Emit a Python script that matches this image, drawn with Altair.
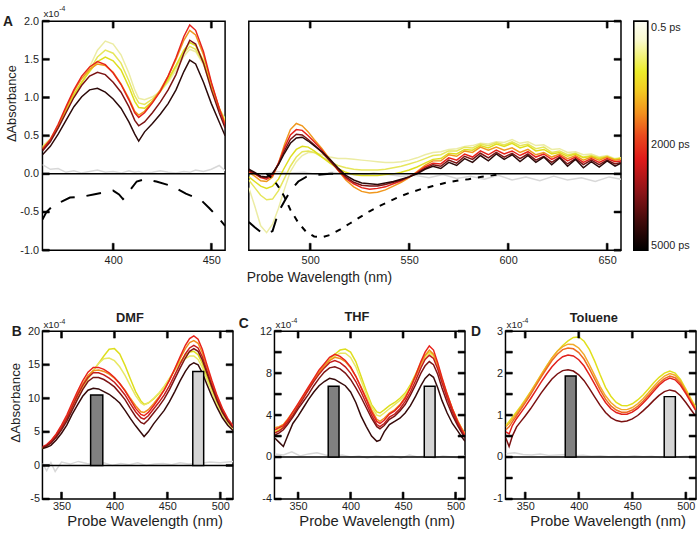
import altair as alt
import pandas as pd

FONT = "Liberation Sans"
INK = "#1e1e1e"

# ======================= DATA (ΔAbsorbance in units of 1e-4) =======================
# ---- Panel A, left part ----
A_L_WL = [364, 368, 372, 376, 380, 384, 388, 392, 396, 400, 404, 408, 411, 413, 416, 420,
          424, 428, 432, 436, 439, 442, 446, 450, 454, 457]
A_L_C1 = [0.36, 0.46, 0.63, 0.82, 1.02, 1.20, 1.40, 1.62, 1.74, 1.70, 1.56, 1.32, 1.10, 0.99, 0.97, 1.01,
          1.08, 1.20, 1.36, 1.54, 1.63, 1.60, 1.43, 1.13, 0.86, 0.72]
A_L_C2 = [0.35, 0.45, 0.62, 0.82, 1.02, 1.19, 1.36, 1.53, 1.62, 1.58, 1.45, 1.22, 1.02, 0.93, 0.91, 0.98,
          1.08, 1.22, 1.40, 1.58, 1.67, 1.63, 1.45, 1.14, 0.86, 0.70]
A_L_C3 = [0.34, 0.44, 0.62, 0.83, 1.04, 1.20, 1.34, 1.47, 1.53, 1.48, 1.36, 1.14, 0.95, 0.87, 0.86, 0.95,
          1.08, 1.24, 1.42, 1.62, 1.72, 1.68, 1.48, 1.15, 0.86, 0.68]
A_L_C4 = [0.33, 0.44, 0.63, 0.86, 1.08, 1.25, 1.37, 1.44, 1.42, 1.33, 1.18, 0.99, 0.82, 0.77, 0.82, 0.95,
          1.10, 1.28, 1.50, 1.75, 1.88, 1.82, 1.56, 1.18, 0.86, 0.66]
A_L_C5 = [0.32, 0.45, 0.65, 0.88, 1.10, 1.28, 1.40, 1.47, 1.43, 1.32, 1.17, 0.97, 0.80, 0.74, 0.80, 0.93,
          1.08, 1.28, 1.52, 1.80, 1.95, 1.88, 1.60, 1.20, 0.86, 0.64]
A_L_C6 = [0.30, 0.42, 0.60, 0.80, 1.00, 1.16, 1.28, 1.33, 1.30, 1.20, 1.07, 0.88, 0.70, 0.63, 0.68, 0.80,
          0.94, 1.10, 1.30, 1.58, 1.75, 1.70, 1.45, 1.10, 0.80, 0.60]
A_L_C7 = [0.25, 0.36, 0.52, 0.70, 0.88, 1.01, 1.10, 1.12, 1.07, 0.98, 0.86, 0.68, 0.52, 0.43, 0.55, 0.66,
          0.78, 0.92, 1.10, 1.34, 1.49, 1.44, 1.20, 0.92, 0.68, 0.50]
A_L_GREY = [0.12, 0.06, 0.07, 0.02, 0.04, 0.01, 0.03, 0.05, 0.02, 0.03, 0.01, 0.04, 0.02, 0.03, 0.01, 0.02,
            0.04, 0.02, 0.01, 0.03, 0.02, 0.05, 0.03, 0.06, 0.11, 0.04]
ABS_L_WL = [364, 366, 370, 374, 378, 384, 390, 396, 400, 403, 405, 407, 409, 412, 416, 422, 430, 437,
            441, 445, 449, 453, 457]
ABS_L = [-0.60, -0.50, -0.40, -0.36, -0.31, -0.30, -0.27, -0.24, -0.22, -0.27, -0.33, -0.28, -0.20,
         -0.10, -0.07, -0.10, -0.16, -0.26, -0.30, -0.35, -0.45, -0.56, -0.68]

# ---- Panel A, right part ----
A_R_WL = [469, 472, 475, 478, 481, 484, 487, 490, 493, 496, 499, 502, 506, 510, 514, 518, 522, 526,
          530, 534, 538, 542, 546, 550, 554, 558, 562, 566, 570, 574, 578, 582, 586, 590, 594, 598,
          602, 606, 610, 614, 618, 622, 626, 630, 634, 638, 642, 646, 650, 654, 657]
A_R_C1 = [-0.18, -0.42, -0.68, -0.77, -0.66, -0.45, -0.20, 0.03, 0.16, 0.24, 0.28, 0.28, 0.25, 0.22,
          0.20, 0.20, 0.19, 0.18, 0.17, 0.16, 0.15, 0.15, 0.16, 0.18, 0.21, 0.25, 0.28, 0.29, 0.32,
          0.33, 0.36, 0.37, 0.40, 0.39, 0.42, 0.41, 0.45, 0.40, 0.42, 0.37, 0.38, 0.32, 0.33, 0.28,
          0.29, 0.25, 0.26, 0.22, 0.24, 0.20, 0.21]
A_R_C2 = [-0.08, -0.18, -0.28, -0.34, -0.33, -0.22, -0.06, 0.10, 0.22, 0.29, 0.30, 0.28, 0.22, 0.16,
          0.11, 0.08, 0.06, 0.05, 0.05, 0.05, 0.06, 0.08, 0.10, 0.13, 0.16, 0.20, 0.24, 0.25, 0.30,
          0.30, 0.35, 0.34, 0.39, 0.37, 0.41, 0.38, 0.42, 0.37, 0.39, 0.33, 0.35, 0.28, 0.30, 0.25,
          0.27, 0.22, 0.24, 0.21, 0.23, 0.19, 0.21]
A_R_C3 = [-0.04, -0.10, -0.16, -0.19, -0.16, -0.07, 0.08, 0.22, 0.32, 0.36, 0.35, 0.30, 0.22, 0.14,
          0.07, 0.02, -0.01, -0.02, -0.02, -0.02, -0.01, 0.00, 0.02, 0.05, 0.09, 0.14, 0.19, 0.20,
          0.27, 0.26, 0.32, 0.31, 0.37, 0.34, 0.39, 0.36, 0.40, 0.34, 0.37, 0.30, 0.32, 0.26, 0.28,
          0.23, 0.26, 0.21, 0.23, 0.20, 0.22, 0.19, 0.20]
A_R_C4 = [0.02, -0.03, -0.09, -0.10, -0.04, 0.14, 0.38, 0.58, 0.66, 0.63, 0.55, 0.45, 0.33, 0.19,
          0.05, -0.08, -0.17, -0.23, -0.25, -0.24, -0.21, -0.16, -0.11, -0.05, 0.03, 0.11, 0.17,
          0.17, 0.25, 0.23, 0.30, 0.28, 0.35, 0.31, 0.35, 0.31, 0.34, 0.28, 0.32, 0.25, 0.28, 0.22,
          0.26, 0.20, 0.24, 0.18, 0.22, 0.18, 0.22, 0.18, 0.19]
A_R_C5 = [0.03, 0.00, -0.05, -0.07, -0.02, 0.14, 0.34, 0.51, 0.58, 0.57, 0.50, 0.42, 0.31, 0.18,
          0.05, -0.06, -0.13, -0.18, -0.20, -0.19, -0.17, -0.13, -0.09, -0.04, 0.02, 0.09, 0.14,
          0.13, 0.21, 0.18, 0.26, 0.22, 0.30, 0.25, 0.31, 0.26, 0.30, 0.24, 0.29, 0.22, 0.26, 0.19,
          0.24, 0.17, 0.22, 0.15, 0.20, 0.15, 0.20, 0.16, 0.17]
A_R_C6 = [0.04, 0.01, -0.04, -0.05, 0.00, 0.13, 0.30, 0.45, 0.52, 0.51, 0.45, 0.38, 0.28, 0.17,
          0.06, -0.04, -0.11, -0.15, -0.16, -0.16, -0.14, -0.11, -0.08, -0.04, 0.01, 0.07, 0.12,
          0.10, 0.18, 0.14, 0.23, 0.19, 0.27, 0.21, 0.28, 0.22, 0.27, 0.20, 0.26, 0.18, 0.23, 0.15,
          0.22, 0.13, 0.20, 0.12, 0.18, 0.12, 0.18, 0.13, 0.15]
A_R_C7 = [0.06, 0.02, -0.03, -0.04, 0.01, 0.12, 0.27, 0.40, 0.47, 0.48, 0.43, 0.37, 0.29, 0.19,
          0.08, -0.02, -0.08, -0.12, -0.13, -0.14, -0.12, -0.10, -0.07, -0.04, 0.00, 0.06, 0.10,
          0.07, 0.15, 0.11, 0.20, 0.15, 0.24, 0.17, 0.26, 0.19, 0.25, 0.16, 0.24, 0.15, 0.22, 0.12,
          0.21, 0.10, 0.19, 0.08, 0.16, 0.09, 0.17, 0.10, 0.14]
A_R_GREY_WL = [469, 476, 483, 490, 497, 504, 511, 518, 525, 532, 539, 546, 553, 560, 567, 574, 581,
               588, 595, 602, 609, 616, 623, 630, 637, 644, 651, 657]
A_R_GREY = [0.02, 0.00, 0.03, 0.01, 0.02, -0.01, 0.02, 0.00, -0.02, 0.01, -0.01, -0.03, -0.02,
            -0.05, -0.01, -0.06, -0.03, -0.07, -0.02, -0.08, -0.04, -0.09, -0.03, -0.08, -0.05,
            -0.10, -0.04, -0.07]
ABS_R_WL = [469, 472, 475, 478, 481, 484, 487, 490, 494, 498, 503, 510, 516]
ABS_R = [-0.63, -0.70, -0.76, -0.79, -0.75, -0.50, -0.36, -0.22, -0.10, -0.04, -0.015, 0.0, 0.0]
EM_WL = [478, 481, 484, 487, 490, 494, 498, 502, 506, 510, 515, 520, 525, 530, 535, 540, 545, 550,
         556, 562, 568, 574, 580, 586, 592, 597]
EM = [0.0, -0.06, -0.17, -0.30, -0.47, -0.64, -0.76, -0.82, -0.83, -0.80, -0.73, -0.65, -0.57,
      -0.49, -0.42, -0.36, -0.30, -0.25, -0.20, -0.16, -0.12, -0.09, -0.07, -0.04, -0.02, 0.0]

# ---- Panel B (DMF) ----
B_WL = [332, 336, 340, 345, 350, 355, 360, 365, 370, 375, 380, 385, 390, 395, 400, 405, 410, 415,
        420, 425, 428, 432, 437, 442, 447, 452, 457, 462, 467, 471, 475, 479, 483, 487, 492, 497,
        502, 507, 512]
B_Y1 = [2.5, 2.8, 3.4, 4.3, 5.5, 6.9, 8.5, 10.1, 11.6, 12.9, 14.1, 15.2, 16.3, 17.3, 17.4, 16.6,
        14.9, 12.9, 11.0, 9.6, 9.1, 9.3, 9.9, 10.7, 11.7, 12.9, 14.2, 15.4, 16.4, 16.9, 17.0, 16.5,
        15.2, 13.4, 11.3, 9.3, 7.7, 6.4, 5.5]
B_Y2 = [2.6, 2.9, 3.5, 4.4, 5.6, 7.0, 8.6, 10.2, 11.7, 13.0, 14.2, 15.2, 15.9, 16.0, 15.6, 14.7,
        13.4, 11.9, 10.4, 9.3, 9.0, 9.3, 10.0, 10.8, 11.8, 13.0, 14.2, 15.2, 15.9, 16.3, 16.3, 15.8,
        14.6, 12.9, 10.9, 9.0, 7.5, 6.3, 5.4]
B_OR = [2.7, 3.0, 3.6, 4.6, 5.8, 7.2, 8.9, 10.6, 12.1, 13.4, 14.1, 14.2, 14.0, 13.6, 13.0, 12.2,
        11.2, 10.0, 8.9, 8.0, 7.9, 8.3, 9.2, 10.2, 11.3, 12.7, 14.3, 15.9, 17.4, 18.3, 18.6, 18.2,
        16.8, 14.8, 12.4, 10.2, 8.3, 6.9, 5.8]
B_RED = [2.8, 3.1, 3.7, 4.7, 6.0, 7.5, 9.3, 11.0, 12.6, 13.9, 14.6, 14.6, 14.3, 13.8, 13.1, 12.2,
         11.1, 9.8, 8.5, 7.6, 7.4, 7.9, 8.9, 10.0, 11.2, 12.7, 14.4, 16.2, 17.9, 18.9, 19.3, 18.8,
         17.3, 15.2, 12.7, 10.4, 8.5, 7.0, 5.9]
B_R2 = [2.7, 3.0, 3.5, 4.4, 5.6, 7.0, 8.7, 10.4, 11.9, 13.1, 13.8, 13.8, 13.5, 13.0, 12.4, 11.5,
        10.5, 9.2, 8.0, 7.1, 6.9, 7.4, 8.4, 9.4, 10.5, 11.9, 13.5, 15.1, 16.6, 17.5, 17.9, 17.5,
        16.2, 14.3, 12.0, 9.9, 8.1, 6.7, 5.7]
B_DR = [2.6, 2.9, 3.3, 4.2, 5.3, 6.6, 8.2, 9.8, 11.3, 12.5, 13.1, 13.1, 12.8, 12.3, 11.7, 10.8,
        9.8, 8.5, 7.3, 6.4, 6.2, 6.8, 7.8, 8.8, 9.9, 11.3, 12.9, 14.5, 16.0, 17.0, 17.4, 17.0,
        15.7, 13.9, 11.7, 9.6, 7.9, 6.6, 5.6]
B_BLK = [2.5, 2.7, 3.0, 3.8, 4.8, 6.0, 7.6, 9.0, 10.3, 11.2, 11.5, 11.4, 11.0, 10.6, 10.0, 9.3,
         8.2, 7.0, 5.9, 4.9, 4.3, 5.0, 6.2, 7.2, 8.2, 9.5, 11.0, 12.6, 14.0, 14.9, 15.3, 15.0,
         13.8, 12.2, 10.3, 8.6, 7.1, 6.0, 5.2]
B_GREY_WL = [332, 336, 340, 344, 350, 358, 366, 374, 382, 390, 398, 406, 414, 422, 430, 438, 446,
             454, 462, 470, 480, 490, 500, 512]
B_GREY = [0.3, -0.8, 0.4, -0.9, 0.5, 0.2, 0.6, 0.3, 0.1, 0.4, 0.0, 0.3, 0.1, 0.4, 0.0, 0.2, 0.3,
          0.1, 0.4, 0.2, 0.3, 0.5, 0.4, 0.6]
B_BAR_LO = [377.5, 474.0]
B_BAR_HI = [389.0, 484.3]
B_BAR_H = [10.5, 14.0]

# ---- Panel C (THF) ----
C_WL = [328, 332, 336, 340, 345, 350, 355, 360, 365, 370, 375, 380, 385, 390, 395, 400, 405, 410,
        415, 420, 425, 428, 432, 437, 442, 447, 452, 457, 462, 467, 471, 475, 479, 483, 487, 492,
        497, 502, 506, 509]
C_Y1 = [2.4, 2.6, 2.9, 3.4, 4.1, 4.9, 5.7, 6.5, 7.3, 8.0, 8.7, 9.3, 9.8, 10.2, 10.3, 10.0, 9.1,
        7.7, 6.3, 5.0, 4.3, 4.2, 4.5, 4.9, 5.2, 5.6, 6.1, 6.9, 7.9, 9.0, 9.7, 10.0, 9.7, 8.8, 7.5,
        6.0, 4.6, 3.5, 2.7, 2.2]
C_Y2 = [2.5, 2.7, 3.0, 3.5, 4.2, 5.0, 5.8, 6.6, 7.3, 8.0, 8.6, 9.2, 9.6, 9.9, 9.9, 9.5, 8.6, 7.3,
        6.0, 4.8, 4.0, 3.9, 4.2, 4.6, 5.0, 5.4, 5.9, 6.7, 7.7, 8.8, 9.5, 9.9, 9.6, 8.7, 7.4, 5.9,
        4.5, 3.4, 2.6, 2.1]
C_OR = [2.8, 2.9, 3.1, 3.6, 4.3, 5.0, 5.8, 6.6, 7.4, 8.1, 8.7, 9.2, 9.5, 9.4, 9.1, 8.5, 7.7, 6.7,
        5.6, 4.5, 3.6, 3.4, 3.7, 4.2, 4.5, 5.0, 5.7, 6.6, 7.7, 8.9, 9.7, 10.2, 9.8, 8.8, 7.4, 5.9,
        4.5, 3.4, 2.7, 2.2]
C_RED = [2.6, 2.8, 3.0, 3.5, 4.3, 5.1, 5.9, 6.7, 7.5, 8.3, 8.9, 9.5, 9.8, 9.6, 9.2, 8.6, 7.7, 6.6,
         5.5, 4.3, 3.4, 3.2, 3.5, 4.1, 4.4, 4.9, 5.6, 6.6, 7.8, 9.1, 10.0, 10.6, 10.2, 9.0, 7.6,
         6.0, 4.6, 3.4, 2.6, 2.1]
C_R2 = [2.3, 2.5, 2.8, 3.3, 4.0, 4.8, 5.6, 6.4, 7.2, 7.9, 8.5, 9.0, 9.2, 9.0, 8.6, 8.0, 7.2, 6.2,
        5.1, 4.0, 3.1, 2.9, 3.2, 3.8, 4.1, 4.6, 5.3, 6.2, 7.3, 8.5, 9.3, 9.7, 9.4, 8.4, 7.1, 5.6,
        4.3, 3.2, 2.4, 1.9]
C_DR = [2.1, 2.3, 2.6, 3.1, 3.8, 4.6, 5.3, 6.0, 6.8, 7.5, 8.1, 8.5, 8.6, 8.4, 8.0, 7.4, 6.6, 5.7,
        4.7, 3.7, 2.9, 2.7, 3.0, 3.6, 3.9, 4.4, 5.0, 5.9, 6.9, 8.0, 8.7, 9.1, 8.8, 7.9, 6.6, 5.2,
        4.0, 3.0, 2.3, 1.8]
C_BLK = [1.8, 1.4, 1.0, 2.0, 3.2, 3.9, 4.7, 5.5, 6.2, 6.8, 7.2, 7.5, 7.4, 7.1, 6.8, 6.2, 5.2, 3.9,
         2.9, 2.0, 1.5, 1.6, 2.4, 3.1, 3.4, 3.7, 4.2, 4.9, 5.8, 6.8, 7.5, 7.9, 7.6, 6.6, 5.4, 4.2,
         3.2, 2.5, 1.9, 1.5]
C_GREY_WL = [328, 336, 344, 352, 360, 368, 376, 384, 392, 400, 408, 416, 424, 432, 440, 448, 456,
             464, 472, 480, 488, 496, 504, 509]
C_GREY = [0.3, 0.2, 0.5, 0.1, 0.3, 0.4, 0.2, 0.1, 0.2, 0.0, 0.1, -0.1, 0.1, 0.0, 0.1, -0.1, 0.2,
          0.0, 0.1, -0.1, 0.1, 0.0, -0.1, 0.1]
C_BAR_LO = [378.7, 470.2]
C_BAR_HI = [389.0, 480.5]
C_BAR_H = [6.75, 6.75]

# ---- Panel D (Toluene) ----
D_WL = [332, 335, 338, 342, 346, 350, 355, 360, 365, 370, 375, 380, 385, 390, 395, 400, 405, 410,
        415, 420, 425, 430, 435, 440, 445, 450, 455, 460, 465, 470, 475, 480, 485, 490, 495, 500,
        505, 509]
D_Y1 = [0.75, 0.85, 0.95, 1.08, 1.22, 1.37, 1.56, 1.76, 1.97, 2.17, 2.36, 2.52, 2.66, 2.77, 2.85,
        2.86, 2.76, 2.56, 2.28, 1.96, 1.66, 1.45, 1.30, 1.23, 1.22, 1.27, 1.36, 1.48, 1.62, 1.77,
        1.90, 2.00, 2.05, 2.00, 1.85, 1.62, 1.38, 1.20]
D_O1 = [0.72, 0.80, 0.90, 1.04, 1.19, 1.34, 1.54, 1.75, 1.96, 2.16, 2.36, 2.52, 2.63, 2.69, 2.68,
        2.60, 2.44, 2.20, 1.94, 1.68, 1.46, 1.30, 1.19, 1.13, 1.13, 1.18, 1.27, 1.39, 1.53, 1.68,
        1.82, 1.93, 1.99, 1.95, 1.81, 1.59, 1.35, 1.17]
D_O2 = [0.65, 0.72, 0.84, 0.99, 1.14, 1.29, 1.49, 1.70, 1.91, 2.11, 2.30, 2.45, 2.56, 2.60, 2.58,
        2.49, 2.33, 2.10, 1.85, 1.60, 1.38, 1.22, 1.12, 1.07, 1.07, 1.12, 1.21, 1.33, 1.47, 1.62,
        1.76, 1.87, 1.93, 1.89, 1.76, 1.55, 1.32, 1.14]
D_RED = [0.60, 0.55, 0.75, 0.92, 1.06, 1.20, 1.39, 1.59, 1.79, 1.98, 2.15, 2.29, 2.39, 2.43, 2.41,
         2.32, 2.17, 1.96, 1.73, 1.50, 1.30, 1.15, 1.06, 1.02, 1.02, 1.07, 1.16, 1.28, 1.42, 1.57,
         1.71, 1.82, 1.88, 1.84, 1.71, 1.51, 1.29, 1.12]
D_DR = [0.45, 0.25, 0.50, 0.72, 0.85, 0.98, 1.15, 1.34, 1.53, 1.70, 1.86, 1.98, 2.06, 2.08, 2.05,
        1.96, 1.82, 1.63, 1.43, 1.23, 1.06, 0.94, 0.87, 0.84, 0.86, 0.91, 0.99, 1.10, 1.22, 1.35,
        1.47, 1.56, 1.60, 1.57, 1.46, 1.30, 1.12, 0.98]
D_GREY_WL = [332, 340, 348, 356, 364, 372, 380, 388, 396, 404, 412, 420, 428, 436, 444, 452, 460,
             468, 476, 484, 492, 500, 509]
D_GREY = [0.08, 0.10, 0.06, 0.05, 0.07, 0.04, 0.05, 0.06, 0.03, 0.04, 0.02, 0.03, 0.01, 0.02, 0.00,
          0.03, 0.01, 0.02, -0.01, 0.01, 0.00, 0.02, 0.00]
D_BAR_LO = [387.4, 479.8]
D_BAR_HI = [397.5, 490.2]
D_BAR_H = [1.93, 1.44]

# ---- colour bar ----
CB_TICKS = [0, 0.54, 1]
CB_LABELS = ["0.5 ps", "2000 ps", "5000 ps"]

# ======================= STYLE =======================
A_COLORS = ["#ececa4", "#e6e65c", "#dede1e", "#f0981e", "#e6231c", "#7c1414", "#2c0a0a"]
BC_COLORS = ["#dede1e", "#e8e864", "#f0901e", "#e8231c", "#c41c1c", "#7c1414", "#360a0a"]
D_COLORS = ["#e0e01e", "#f2aa2a", "#ee6a22", "#e0201c", "#7a1010"]
GREY = "#d8d8d8"
XTITLE = "Probe Wavelength (nm)"
TICK_LEN_PX = 7
TICK_W_PX = 2.0


def scl(dom):
    return alt.Scale(domain=dom, nice=False, zero=False)


def long_df(W, series, colors):
    rows = []
    for i, (vals, col) in enumerate(zip(series, colors, strict=True)):
        for w, v in zip(W, vals, strict=True):
            rows.append({"wl": w, "v": v, "s": f"s{i}", "col": col})
    return pd.DataFrame(rows)


def xy_df(W, V):
    return pd.DataFrame({"wl": list(W), "v": list(V)})


def neg_fmt(fmt):
    return f"datum.value < 0 ? '-' + format(-datum.value, '{fmt}') : format(datum.value, '{fmt}')"


def panel(p):
    xdom, ydom = p["xdom"], p["ydom"]
    XS, YS = scl(xdom), scl(ydom)

    def X(axis=None, f="wl:Q"):
        return alt.X(f, scale=XS, axis=axis)

    def Y(axis=None, f="v:Q"):
        return alt.Y(f, scale=YS, axis=axis)

    xa = dict(orient="bottom", values=p["xlabels"], ticks=False, domain=False, grid=False,
              labelPadding=p["xpad"], labelFlush=False, format="d")
    if p.get("xtitle"):
        xa.update(title=p["xtitle"], titleX=p["xtx"], titleY=p["xty"], titleAlign="center",
                  titleBaseline="alphabetic", titleFontSize=p["xtfs"], titleAngle=0)
    else:
        xa.update(title=None)
    x_axis = alt.Axis(**xa)
    if p.get("ylabels") is not None:
        ya = dict(orient="left", values=p["ylabels"], ticks=False, domain=False, grid=False,
                  labelPadding=p["ypad"], labelFlush=False, labelExpr=neg_fmt(p["yfmt"]))
        if p.get("ytitle"):
            ya.update(title=p["ytitle"], titleX=p["ytx"], titleY=p["yty"], titleAngle=270,
                      titleAlign="center", titleBaseline="middle", titleFontSize=p["ytfs"])
        else:
            ya.update(title=None)
        y_axis = alt.Axis(**ya)
    else:
        y_axis = None

    layers = []
    gW, gV = p["grey"]
    layers.append(alt.Chart(xy_df(gW, gV)).mark_line(color=GREY, strokeWidth=1.5, clip=True)
                  .encode(x=X(x_axis), y=Y(y_axis)))
    layers.append(alt.Chart(long_df(p["wl"], p["series"], p["colors"]))
                  .mark_line(strokeWidth=1.5, clip=True)
                  .encode(x=X(), y=Y(), detail="s:N",
                          color=alt.Color("col:N", scale=None, legend=None)))
    layers.append(alt.Chart(pd.DataFrame({"v": [0.0]})).mark_rule(color="black", strokeWidth=1.5)
                  .encode(y=Y()))
    for (W, V, dash, sw) in p.get("dashed", []):
        layers.append(alt.Chart(xy_df(W, V)).mark_line(color="black", strokeWidth=sw,
                                                       strokeDash=dash, clip=True)
                      .encode(x=X(), y=Y()))
    for (lo, hi, h, fill) in p.get("bars", []):
        df = pd.DataFrame({"lo": [lo], "hi": [hi], "z": [0.0], "h": [h]})
        layers.append(alt.Chart(df).mark_rect(fill=fill, stroke="black", strokeWidth=1.5)
                      .encode(x=X(f="lo:Q"), x2="hi", y=Y(f="z:Q"), y2="h"))
    # inward tick marks: small filled rectangles (sizes converted from px to data units)
    ux = (xdom[1] - xdom[0]) / p["w"]
    uy = (ydom[1] - ydom[0]) / p["h"]
    L_x, L_y = TICK_LEN_PX * ux, TICK_LEN_PX * uy
    H_x, H_y = TICK_W_PX * ux / 2, TICK_W_PX * uy / 2
    sides = p["sides"]
    for t in p["xticks"]:
        for side in ("bottom", "top"):
            if side not in sides:
                continue
            y0, y1 = ((ydom[0], ydom[0] + L_y) if side == "bottom"
                      else (ydom[1] - L_y, ydom[1]))
            df = pd.DataFrame({"ta": [t - H_x], "tb": [t + H_x], "tc": [y0], "td": [y1]})
            layers.append(alt.Chart(df).mark_rect(fill="black", stroke="black", strokeWidth=0.5)
                          .encode(x=X(f="ta:Q"), x2="tb", y=Y(f="tc:Q"), y2="td"))
    for t in p["yticks"]:
        for side in ("left", "right"):
            if side not in sides:
                continue
            x0, x1 = ((xdom[0], xdom[0] + L_x) if side == "left"
                      else (xdom[1] - L_x, xdom[1]))
            df = pd.DataFrame({"ta": [x0], "tb": [x1], "tc": [t - H_y], "td": [t + H_y]})
            layers.append(alt.Chart(df).mark_rect(fill="black", stroke="black", strokeWidth=0.5)
                          .encode(x=X(f="ta:Q"), x2="tb", y=Y(f="tc:Q"), y2="td"))
    for t in p.get("texts", []):
        df = pd.DataFrame({"wl": [t["x"]], "v": [t["y"]]})
        layers.append(alt.Chart(df).mark_text(
            text=t["text"], dx=t["dx"], dy=t["dy"], fontSize=t["size"],
            fontWeight=t.get("weight", "normal"), align=t.get("align", "left"),
            baseline=t.get("baseline", "alphabetic"), color=INK, font=FONT,
            opacity=t.get("opacity", 1))
            .encode(x=X(), y=Y()))
    return alt.layer(*layers).resolve_axis(x="independent", y="independent").properties(
        width=p["w"], height=p["h"])


def exp_texts(xdom, ydom, dx, dy_main, dy_sup, size=10, sup=7):
    return [
        dict(text="x10", x=xdom[0], y=ydom[1], dx=dx, dy=dy_main, size=size),
        dict(text="-4", x=xdom[0], y=ydom[1], dx=dx + 16, dy=dy_sup, size=sup),
    ]


def anchor(x, y, dx, dy, baseline):
    # invisible layout anchor (fixes the bounding box of a row)
    return dict(text=".", x=x, y=y, dx=dx, dy=dy, size=4, align="left", baseline=baseline,
                opacity=0)


def spacer(w, h):
    return alt.Chart(pd.DataFrame({"wl": [0]})).mark_point(opacity=0).encode(
        x=alt.X("wl:Q", axis=None)).properties(
        width=w, height=h, view=alt.ViewBackground(stroke="transparent"))


# ---------------- Panel A left ----------------
AL_X = [364, 457]
A_Y = [-1.0, 2.0]
A_YVALS = [-1.0, -0.5, 0.0, 0.5, 1.0, 1.5, 2.0]
a_left = panel(dict(
    xdom=AL_X, ydom=A_Y, w=185, h=232, wl=A_L_WL,
    series=[A_L_C1, A_L_C2, A_L_C3, A_L_C4, A_L_C5, A_L_C6, A_L_C7], colors=A_COLORS,
    grey=(A_L_WL, A_L_GREY),
    xlabels=[400, 450], xticks=[400, 450], xpad=4,
    ylabels=A_YVALS, yticks=A_YVALS, yfmt=".1f", ypad=4,
    ytitle="ΔAbsorbance", ytx=-31, yty=83, ytfs=13,
    sides=["bottom", "top", "left"],
    dashed=[(ABS_L_WL, ABS_L, [15, 12], 2)],
    texts=exp_texts(AL_X, A_Y, 1, -4, -10) + [
        dict(text="A", x=AL_X[0], y=A_Y[1], dx=-35, dy=1, size=14, weight="bold",
             align="center", baseline="middle"),
        anchor(AL_X[0], A_Y[1], -42, -17, "top"),
        anchor(AL_X[0], A_Y[0], -42, 50, "bottom")],
))

# ---------------- Panel A right ----------------
AR_X = [469, 657]
a_right = panel(dict(
    xdom=AR_X, ydom=A_Y, w=377, h=232, wl=A_R_WL,
    series=[A_R_C1, A_R_C2, A_R_C3, A_R_C4, A_R_C5, A_R_C6, A_R_C7], colors=A_COLORS,
    grey=(A_R_GREY_WL, A_R_GREY),
    xlabels=[500, 550, 600, 650], xticks=[500, 550, 600, 650], xpad=4,
    xtitle=XTITLE, xtx=71, xty=32, xtfs=14,
    ylabels=None, yticks=A_YVALS,
    sides=["bottom", "top", "right"],
    dashed=[(ABS_R_WL, ABS_R, [15, 12], 2), (EM_WL, EM, [6, 7], 2)],
))

# ---------------- colour bar ----------------
cb_expr = " : ".join(
    [f"datum.value == {v} ? '{lab}'" for v, lab in zip(CB_TICKS[:-1], CB_LABELS[:-1])]
) + f" : '{CB_LABELS[-1]}'"
cbar = alt.Chart(pd.DataFrame({"x0": [0], "x1": [1], "y0": [0], "y1": [1]})).mark_rect(
    color=alt.Gradient(
        gradient="linear", x1=0, y1=0, x2=0, y2=1,
        stops=[
            alt.GradientStop(offset=0.0, color="#fffff6"),
            alt.GradientStop(offset=0.08, color="#fafad0"),
            alt.GradientStop(offset=0.22, color="#ecec2a"),
            alt.GradientStop(offset=0.30, color="#f2cc22"),
            alt.GradientStop(offset=0.40, color="#f2921e"),
            alt.GradientStop(offset=0.50, color="#ea4a1e"),
            alt.GradientStop(offset=0.60, color="#e01a1a"),
            alt.GradientStop(offset=0.75, color="#8a1418"),
            alt.GradientStop(offset=0.88, color="#3e0a0a"),
            alt.GradientStop(offset=1.0, color="#000000"),
        ]),
    stroke="black", strokeWidth=1.5,
).encode(
    x=alt.X("x0:Q", scale=alt.Scale(domain=[0, 1], nice=False), axis=None), x2="x1",
    y=alt.Y("y0:Q", scale=alt.Scale(domain=[0, 1], nice=False, reverse=True),
            axis=alt.Axis(orient="right", values=CB_TICKS, labelExpr=cb_expr, ticks=False,
                          domain=False, grid=False, labelFlush=True, labelPadding=3,
                          title=None)),
    y2="y1",
).properties(width=14, height=232)

# ---------------- bottom panels ----------------
B_X = [332, 512]
B_Yd = [-5, 20]
b_panel = panel(dict(
    xdom=B_X, ydom=B_Yd, w=193, h=170, wl=B_WL,
    series=[B_Y1, B_Y2, B_OR, B_RED, B_R2, B_DR, B_BLK], colors=BC_COLORS,
    grey=(B_GREY_WL, B_GREY),
    xlabels=[350, 400, 450, 500], xticks=[350, 400, 450, 500], xpad=2,
    xtitle=XTITLE, xtx=103.5, xty=27, xtfs=15,
    ylabels=[-5, 0, 5, 10, 15, 20], yticks=[-5, 0, 5, 10, 15, 20], yfmt="d", ypad=3,
    ytitle="ΔAbsorbance", ytx=-27, yty=72, ytfs=13.5,
    sides=["bottom", "top", "left", "right"],
    bars=[(B_BAR_LO[0], B_BAR_HI[0], B_BAR_H[0], "#808080"),
          (B_BAR_LO[1], B_BAR_HI[1], B_BAR_H[1], "#d4d4d4")],
    texts=exp_texts(B_X, B_Yd, 1, -3, -7) + [
        dict(text="B", x=B_X[0], y=B_Yd[1], dx=-26, dy=1, size=14, weight="bold",
             align="center", baseline="middle"),
        dict(text="DMF", x=(B_X[0] + B_X[1]) / 2, y=B_Yd[1], dx=-8, dy=-9, size=13,
             weight="bold", align="center"),
        anchor(B_X[0], B_Yd[1], -34, -30, "top")],
))

C_X = [327.5, 509]
C_Yd = [-4, 12]
c_panel = panel(dict(
    xdom=C_X, ydom=C_Yd, w=193, h=170, wl=C_WL,
    series=[C_Y1, C_Y2, C_OR, C_RED, C_R2, C_DR, C_BLK], colors=BC_COLORS,
    grey=(C_GREY_WL, C_GREY),
    xlabels=[350, 400, 450, 500], xticks=[350, 400, 450, 500], xpad=2,
    xtitle=XTITLE, xtx=103.5, xty=27, xtfs=15,
    ylabels=[-4, 0, 4, 8, 12], yticks=[-4, -2, 0, 2, 4, 6, 8, 10, 12], yfmt="d", ypad=3,
    sides=["bottom", "top", "left", "right"],
    bars=[(C_BAR_LO[0], C_BAR_HI[0], C_BAR_H[0], "#808080"),
          (C_BAR_LO[1], C_BAR_HI[1], C_BAR_H[1], "#d4d4d4")],
    texts=exp_texts(C_X, C_Yd, 1, -3, -8) + [
        dict(text="C", x=C_X[0], y=C_Yd[1], dx=-31, dy=-7, size=14, weight="bold",
             align="center", baseline="middle"),
        dict(text="THF", x=(C_X[0] + C_X[1]) / 2, y=C_Yd[1], dx=-13, dy=-10, size=13,
             weight="bold", align="center")],
))

D_X = [331.6, 509.5]
D_Yd = [-1, 3]
d_panel = panel(dict(
    xdom=D_X, ydom=D_Yd, w=193, h=170, wl=D_WL,
    series=[D_Y1, D_O1, D_O2, D_RED, D_DR], colors=D_COLORS,
    grey=(D_GREY_WL, D_GREY),
    xlabels=[350, 400, 450, 500], xticks=[350, 400, 450, 500], xpad=2,
    xtitle=XTITLE, xtx=103.5, xty=27, xtfs=15,
    ylabels=[-1, 0, 1, 2, 3], yticks=[-1, -0.5, 0, 0.5, 1, 1.5, 2, 2.5, 3], yfmt="d", ypad=3,
    sides=["bottom", "top", "left", "right"],
    bars=[(D_BAR_LO[0], D_BAR_HI[0], D_BAR_H[0], "#808080"),
          (D_BAR_LO[1], D_BAR_HI[1], D_BAR_H[1], "#d4d4d4")],
    texts=exp_texts(D_X, D_Yd, 1, -3, -8) + [
        dict(text="D", x=D_X[0], y=D_Yd[1], dx=-30, dy=1, size=14, weight="bold",
             align="center", baseline="middle"),
        dict(text="Toluene", x=(D_X[0] + D_X[1]) / 2, y=D_Yd[1], dx=-7, dy=-9, size=13,
             weight="bold", align="center")],
))

# ---------------- layout ----------------
top_row = alt.hconcat(a_left, spacer(24, 232), a_right, spacer(13, 232), cbar,
                      spacing=0, bounds="flush")
bottom_row = alt.hconcat(b_panel, spacer(42, 170), c_panel, spacer(41, 170), d_panel,
                         spacing=0, bounds="flush")
chart = alt.vconcat(top_row, bottom_row, spacing=0).properties(
    padding={"left": 0, "top": 0, "right": 0, "bottom": 0}
).configure_view(stroke="black", strokeWidth=1.5).configure_axis(
    labelFont=FONT, labelFontSize=11, labelColor=INK, titleFont=FONT, titleColor=INK,
    titleFontWeight="normal"
).configure_text(font=FONT)

chart.save("out.html", embed_options={"renderer": "svg", "actions": False})
